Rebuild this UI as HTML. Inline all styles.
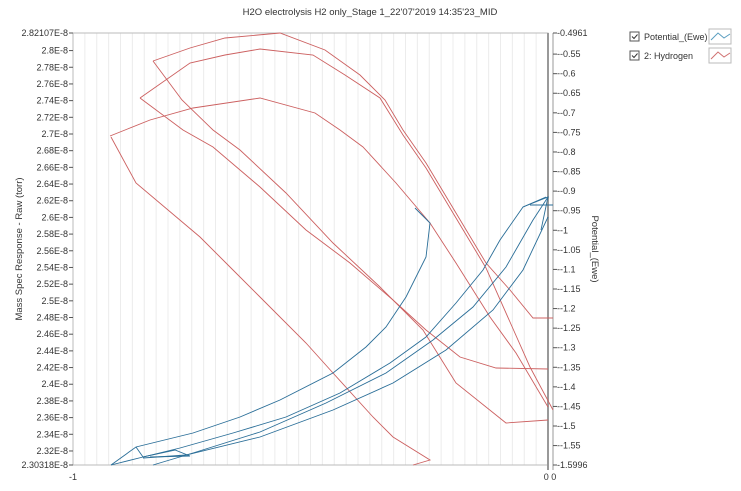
<!DOCTYPE html>
<html><head><style>
body{margin:0;background:#fff;width:741px;height:486px;overflow:hidden;font-family:"Liberation Sans",sans-serif;}
</style></head><body>
<svg width="741" height="486" viewBox="0 0 741 486" xmlns="http://www.w3.org/2000/svg" font-family="Liberation Sans, sans-serif" font-size="9" fill="#333">
<text x="370" y="15" text-anchor="middle" font-size="9.5">H2O electrolysis H2 only_Stage 1_22'07'2019 14:35'23_MID</text>
<g id="grid" stroke="#ececec" stroke-width="1"></g>
<rect x="73" y="33" width="475" height="432" fill="none" stroke="#bbb"/>
<line x1="548" y1="33" x2="548" y2="470" stroke="#999" stroke-width="2"/>
<line x1="553" y1="33" x2="553" y2="470" stroke="#999" stroke-width="1"/>
<g id="lt" text-anchor="end"></g>
<g id="rt"></g>
<text x="73" y="480" text-anchor="middle">-1</text>
<text x="550" y="480" text-anchor="middle">0 0</text>
<text transform="translate(22,249) rotate(-90)" text-anchor="middle" font-size="9.5">Mass Spec Response - Raw (torr)</text>
<text transform="translate(592,249) rotate(90)" text-anchor="middle" font-size="9.5">Potential_(Ewe)</text>
<g fill="none" stroke="#cc6060" stroke-width="0.9">
<polyline points="153,61 190,48 225,38 258,35 280,33 325,50 360,75 385,100 403,130 426,163 456,213 486,263 510,290 533,318 553,318"/>
<polyline points="140,98 190,63 225,55 260,49 313,55 345,75 380,98 403,135 426,168 456,218 486,268 510,322 530,367 553,410"/>
<polyline points="110,136 150,120 193,108 260,98 315,113 340,130 363,147 396,183 430,223 456,263 490,317 516,353 548,407"/>
<polyline points="153,61 182,100 213,130 240,150 286,193 333,243 380,287 423,330 456,383 506,423 548,420"/>
<polyline points="140,98 183,130 213,147 260,187 306,230 350,263 393,300 426,330 460,357 496,368 548,369"/>
<polyline points="111,137 136,183 200,237 230,267 260,297 306,343 333,373 373,417 393,437 430,460 413,465"/>
</g>
<g fill="none" stroke="#2a6e98" stroke-width="0.9">
<polyline points="111,465 136,447 193,433 240,417 280,400 333,373 366,347 386,327 406,297 426,257 430,223 415,208"/>
<polyline points="111,465 143,457 180,448 233,433 286,417 340,393 390,363 426,337 456,303 483,270 500,240 523,207 546,197"/>
<polyline points="153,465 193,453 260,432 326,403 386,373 433,340 473,307 506,267 533,220 548,197"/>
<polyline points="143,458 186,455 260,437 333,410 393,383 446,350 493,310 523,270 548,217"/>
<polyline points="136,447 143,457 175,450 190,456 150,457"/>
<polyline points="530,205 553,205"/>
<polyline points="523,207 548,197 541,230"/>
</g>
<g font-size="9">
<rect x="630" y="32" width="9" height="9" fill="#fff" stroke="#555"/>
<path d="M632 36.5 l2 2 l3.5-4" fill="none" stroke="#333"/>
<text x="644" y="40">Potential_(Ewe)</text>
<rect x="709" y="29" width="22" height="15" fill="#fff" stroke="#bbb"/>
<polyline points="711,40 718,33 724,38 730,34" fill="none" stroke="#5a9ec0"/>
<rect x="630" y="51" width="9" height="9" fill="#fff" stroke="#555"/>
<path d="M632 55.5 l2 2 l3.5-4" fill="none" stroke="#333"/>
<text x="644" y="59">2: Hydrogen</text>
<rect x="709" y="48" width="22" height="15" fill="#fff" stroke="#bbb"/>
<polyline points="711,59 718,52 724,57 730,53" fill="none" stroke="#d07070"/>
</g>
</svg>
<script>
var ns="http://www.w3.org/2000/svg";
var g=document.getElementById("grid");
for(var i=1;i<40;i++){var x=73+i*475/40;var l=document.createElementNS(ns,"line");l.setAttribute("x1",x);l.setAttribute("x2",x);l.setAttribute("y1",33);l.setAttribute("y2",465);g.appendChild(l);}
var lt=document.getElementById("lt");
function T(p,x,y,s){var t=document.createElementNS(ns,"text");t.setAttribute("x",x);t.setAttribute("y",y);t.textContent=s;p.appendChild(t);}
function Ln(p,x1,y1,x2,y2){var l=document.createElementNS(ns,"line");l.setAttribute("x1",x1);l.setAttribute("x2",x2);l.setAttribute("y1",y1);l.setAttribute("y2",y2);l.setAttribute("stroke","#555");p.appendChild(l);}
var lmin=2.30318,lmax=2.82107;
function ly(v){return 465-(v-lmin)/(lmax-lmin)*432;}
T(lt,68,36,"2.82107E-8");Ln(lt,69,33,73,33);
for(var k=0;k<=25;k++){var v=2.32+k*0.02;if(v>2.81)break;var y=ly(v);T(lt,68,y+3,(Math.round(v*100)/100)+"E-8");Ln(lt,69,y,73,y);}
T(lt,68,468,"2.30318E-8");Ln(lt,69,465,73,465);
var rt=document.getElementById("rt");
var rmin=-1.5996,rmax=-0.4961;
function ry(v){return 465-(v-rmin)/(rmax-rmin)*432;}
T(rt,557,36,"-0.4961");Ln(rt,553,33,557,33);
for(var k=0;k<21;k++){var v=-0.55-k*0.05;var y=ry(v);var s=(Math.round(v*100)/100).toString();T(rt,557,y+3,"-"+s);Ln(rt,553,y,557,y);}
T(rt,557,468,"-1.5996");Ln(rt,553,465,557,465);
</script>
</body></html>
